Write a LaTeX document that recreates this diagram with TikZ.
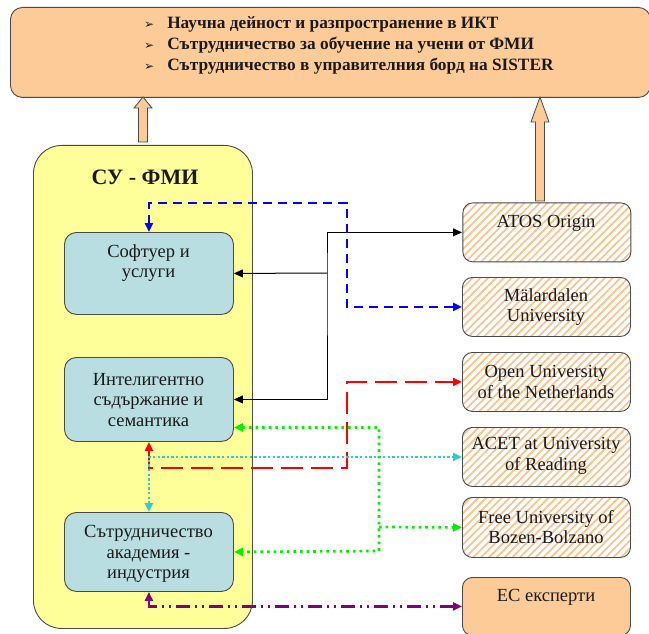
\documentclass[tikz,border=0pt]{standalone}
\usepackage{fontspec}
\setmainfont{Liberation Serif}
\newfontfamily\dejavu{DejaVu Sans}
\usetikzlibrary{arrows.meta,patterns.meta}
\definecolor{topor}{HTML}{FDCB98}
\definecolor{yel}{HTML}{FFFF99}
\definecolor{tealbx}{HTML}{B8DEE1}
\definecolor{hatchc}{HTML}{F8C490}
\definecolor{bord}{HTML}{4A4A4A}
\definecolor{txt}{HTML}{1A1A1A}
\definecolor{cyn}{HTML}{33CCCC}
\definecolor{grn}{HTML}{00F000}
\definecolor{prp}{HTML}{800080}
\definecolor{blu}{HTML}{0000FF}
\definecolor{rd}{HTML}{FF0000}
\begin{document}
\begin{tikzpicture}[x=1pt,y=-1pt,
  basebox/.style={draw=bord, line width=0.9pt, inner sep=0pt, anchor=north west},
  topbox/.style={basebox, fill=topor, rounded corners=12pt},
  ylbox/.style={basebox, fill=yel, rounded corners=28pt},
  tlbox/.style={basebox, fill=tealbx, rounded corners=12pt, minimum width=169pt, minimum height=82pt},
  hbox/.style={basebox, rounded corners=10pt, minimum width=168pt, minimum height=59pt,
     pattern={Lines[angle=45,distance=5.5pt,line width=1.8pt]}, pattern color=hatchc},
  ecbox/.style={basebox, fill=topor, rounded corners=10pt, minimum width=168pt, minimum height=58pt},
  lbl/.style={align=center, text=txt, inner sep=0pt, font=\fontsize{18.5}{20.5}\selectfont},
  blockarrow/.style={draw=bord, fill=topor, line width=0.8pt, line join=miter},
  tip/.style={-{Triangle[length=9pt,width=8pt]}},
  tips/.style={{Triangle[length=9pt,width=8pt]}-{Triangle[length=9pt,width=8pt]}},
  blk/.style={draw=black, line width=1pt},
  bluel/.style={draw=blu, line width=2.5pt, dash pattern=on 9pt off 6pt},
  redl/.style={draw=rd, line width=2.5pt, dash pattern=on 22pt off 8pt},
  cynl/.style={draw=cyn, line width=2.7pt, dash pattern=on 2.4pt off 2.2pt},
  grnl/.style={draw=grn, line width=2.7pt, dash pattern=on 2.6pt off 4pt},
  prpl/.style={draw=prp, line width=2.2pt, dash pattern=on 14pt off 5pt on 2pt off 5pt on 2pt off 5pt}
]
\useasboundingbox (0,0) rectangle (649,634);

% top box
\node[topbox, minimum width=640pt, minimum height=90pt] (top) at (10,7) {};
\node[anchor=west, text=txt, inner sep=0pt, font=\fontsize{17.3}{21}\selectfont\bfseries] (toptext) at (144,45)
 {\begin{tabular}{@{}l@{\hspace{13pt}}l@{}}
  {\dejavu\fontsize{12}{21}\selectfont ➢} & Научна дейност и разпространение в ИКТ\\
  {\dejavu\fontsize{12}{21}\selectfont ➢} & Сътрудничество за обучение на учени от ФМИ\\
  {\dejavu\fontsize{12}{21}\selectfont ➢} & Сътрудничество в управителния борд на SISTER
  \end{tabular}};

% block arrows
\draw[blockarrow] (138.5,142) -- (138.5,108) -- (134,108) -- (143,97) -- (152,108) -- (147.5,108) -- (147.5,142) -- cycle;
\draw[blockarrow] (535.5,201) -- (535.5,122) -- (531,122) -- (540,97) -- (549,122) -- (544.5,122) -- (544.5,201) -- cycle;

% yellow box
\node[ylbox, minimum width=219pt, minimum height=483pt] (su) at (33,145) {};
\node[lbl, font=\fontsize{22}{24}\selectfont\bfseries] (sutitle) at (145,177) {СУ - ФМИ};

% teal boxes
\node[tlbox] (s1) at (64,232) {};
\node[lbl] (s1t) at (148.5,263) {Софтуер и\\услуги};
\node[tlbox, minimum height=84pt] (s2) at (64,357) {};
\node[lbl] (s2t) at (148.5,400) {Интелигентно\\съдържание и\\семантика};
\node[tlbox, minimum height=79pt] (s3) at (64,512) {};
\begin{scope}
\clip (64,512) rectangle (233,586);
\node[lbl] (s3t) at (148.5,554) {Сътрудничество\\академия -\\индустрия};
\end{scope}

% right boxes
\node[hbox] (atos) at (462,202) {};
\node[lbl] (atost) at (546,223) {ATOS Origin};
\node[hbox] (mal) at (462,277) {};
\node[lbl] (malt) at (546,307) {Mälardalen\\University};
\node[hbox] (open) at (462,352) {};
\node[lbl] (opent) at (546,382) {Open University\\of the Netherlands};
\node[hbox] (acet) at (462,427) {};
\node[lbl] (acett) at (546,456) {ACET at University\\of Reading};
\node[hbox, minimum height=60pt] (free) at (462,497) {};
\node[lbl] (freet) at (546,527) {Free University of\\Bozen-Bolzano};
\node[ecbox] (ec) at (462,577) {};
\node[lbl] (ect) at (546,597) {ЕС експерти};

% connectors
\coordinate (bj) at (327,273);
\draw[blk, tips] (s2.east) -| (bj) |- (atos.west);
\draw[blk, tip] (bj) -- (s1.east);

\coordinate (bc) at (347,203);
\draw[bluel, tips] (s1.north) |- (bc) |- (mal.west);

\coordinate (rc) at (347,468);
\draw[redl, tips] (s2.south) |- (rc) |- (open.west);

\draw[cynl, tips] (s3.north) |- (acet.west);

\coordinate (g2) at (379,551);
\coordinate (g3) at (379,527);
\draw[grnl, tips] ([yshift=-28pt]s2.east) -| (g2) -- (s3.east);
\draw[grnl, tip] (g3) -- (free.west);

\draw[prpl, tips] (s3.south) |- (ec.west);
\end{tikzpicture}
\end{document}
